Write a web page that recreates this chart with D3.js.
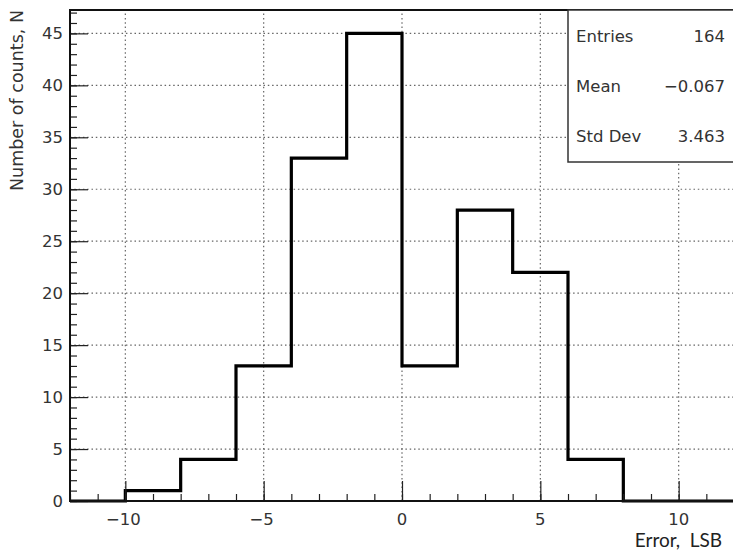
<!DOCTYPE html>
<html><head><meta charset="utf-8">
<script src="https://cdn.jsdelivr.net/npm/d3@7"></script>
<style>
body{margin:0;background:#fff;}
svg{display:block;}
</style></head>
<body>
<script>
// Data
const binEdges = [-12,-10,-8,-6,-4,-2,0,2,4,6,8,10,12];
const counts = [0,1,4,13,33,45,13,28,22,4,0,0];
const xMajorTicks = [-10,-5,0,5,10];
const yMajorTicks = [0,5,10,15,20,25,30,35,40,45];
const statsLabels = ["Entries","Mean","Std Dev"];
const statsValues = ["164","\u22120.067","3.463"];

const W = 733, H = 552;
const L = 70, R = 734, T = 10, B = 501;
const svg = d3.select("body").append("svg").attr("width", W).attr("height", H);
const x = d3.scaleLinear().domain([-12, 12]).range([L, R]);
const y = d3.scaleLinear().domain([0, 47.25]).range([B, T]);
const font = "'DejaVu Sans', sans-serif";
const fs = 16.5;

// grid
const g = svg.append("g");
g.selectAll("line.gx").data(xMajorTicks).enter().append("line")
  .attr("x1", d => x(d)).attr("x2", d => x(d)).attr("y1", B).attr("y2", T)
  .attr("stroke", "#666").attr("stroke-width", 1.2).attr("stroke-dasharray", "1.5,2.8");
g.selectAll("line.gy").data(yMajorTicks.filter(d => d > 0)).enter().append("line")
  .attr("x1", L).attr("x2", R).attr("y1", d => y(d)).attr("y2", d => y(d))
  .attr("stroke", "#666").attr("stroke-width", 1.2).attr("stroke-dasharray", "1.5,2.8");

// histogram
const pts = binEdges.map((e, i) => [e, i < counts.length ? counts[i] : counts[counts.length - 1]]);
const line = d3.line().x(d => x(d[0])).y(d => y(d[1])).curve(d3.curveStepAfter);
svg.append("path").attr("d", line(pts)).attr("fill", "none").attr("stroke", "#000").attr("stroke-width", 3.2);

// axes
const xMinor = d3.range(-12, 12.01, 1);
const yMinor = d3.range(0, 47.1, 1);
const axX = svg.append("g").attr("transform", `translate(0,${B})`);
axX.call(d3.axisTop(x).tickValues(xMinor).tickSize(7).tickFormat(""));
axX.append("g").call(d3.axisTop(x).tickValues(xMajorTicks).tickSize(20).tickFormat(""));
axX.selectAll("path").remove();
axX.selectAll("line").attr("stroke", "#222").attr("stroke-width", 1.2);

const axY = svg.append("g").attr("transform", `translate(${L},0)`);
axY.call(d3.axisRight(y).tickValues(yMinor).tickSize(7).tickFormat(""));
axY.append("g").call(d3.axisRight(y).tickValues(yMajorTicks).tickSize(18).tickFormat(""));
axY.selectAll("path").remove();
axY.selectAll("line").attr("stroke", "#222").attr("stroke-width", 1.2);

// frame
svg.append("rect").attr("x", L).attr("y", T).attr("width", R - L).attr("height", B - T)
  .attr("fill", "none").attr("stroke", "#111").attr("stroke-width", 2);

// tick labels
svg.selectAll("text.xl").data(xMajorTicks).enter().append("text")
  .attr("x", d => x(d) - (d < 0 ? 2 : 0)).attr("y", 525).attr("text-anchor", "middle")
  .attr("font-family", font).attr("font-size", fs).attr("fill", "#333")
  .text(d => d < 0 ? "\u2212" + Math.abs(d) : d);
svg.selectAll("text.yl").data(yMajorTicks).enter().append("text")
  .attr("x", 63).attr("y", d => y(d) + 6).attr("text-anchor", "end")
  .attr("font-family", font).attr("font-size", fs).attr("fill", "#333")
  .text(d => d);

// axis titles
svg.append("text").attr("transform", "translate(23,10) rotate(-90)")
  .attr("text-anchor", "end").attr("font-family", font).attr("font-size", 17.5).attr("fill", "#333")
  .text("Number of counts, N");
svg.append("text").attr("x", 722).attr("y", 547).attr("text-anchor", "end")
  .attr("font-family", "Lato, 'Open Sans', sans-serif").attr("font-size", 19).attr("fill", "#222")
  .text("Error,\u2002LSB");

// stats box
const sx = 568, sy = T, sw = R - 568, sh = 152;
svg.append("rect").attr("x", sx).attr("y", sy).attr("width", sw).attr("height", sh)
  .attr("fill", "#fff").attr("stroke", "#333").attr("stroke-width", 1.5);
const rowY = d3.scalePoint().domain(statsLabels).range([sy + 26, sy + sh - 26]);
svg.selectAll("text.sl").data(statsLabels).enter().append("text")
  .attr("x", 576).attr("y", d => rowY(d) + 6).attr("font-family", font).attr("font-size", fs).attr("fill", "#333")
  .text(d => d);
svg.selectAll("text.sv").data(statsValues).enter().append("text")
  .attr("x", 725).attr("y", (d, i) => rowY(statsLabels[i]) + 6).attr("text-anchor", "end")
  .attr("font-family", font).attr("font-size", fs).attr("fill", "#333")
  .text(d => d);
</script>
</body></html>
